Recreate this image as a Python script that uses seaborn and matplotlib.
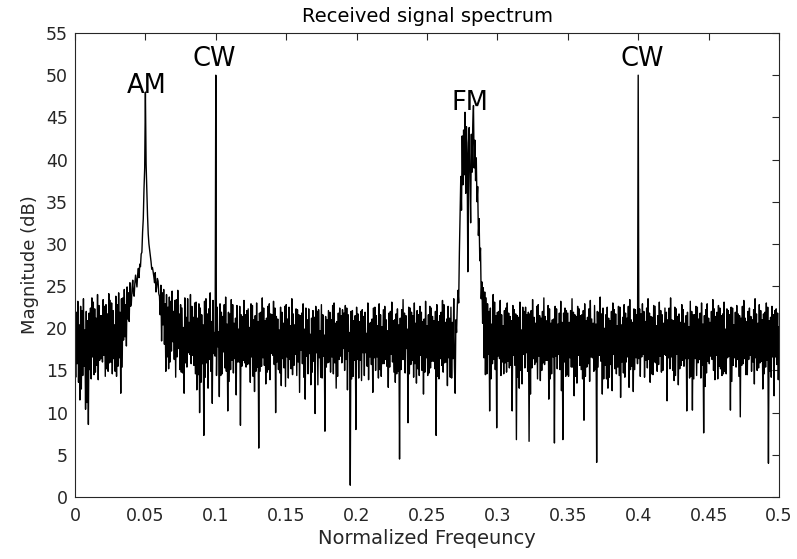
import numpy as np
import pandas as pd
import matplotlib
matplotlib.use("Agg")
import matplotlib.pyplot as plt
import seaborn as sns

# ---- data ----
# spectrum at bins 0.000, 0.001, ..., 0.500
band_a = [  # 0.000 - 0.099
    20.5, 21.9, 23.2, 20.4, 22.6, 22.1, 23.5, 19.8, 22.0, 20.9,
    21.8, 22.4, 23.6, 23.1, 22.3, 21.2, 24.0, 22.7, 21.5, 21.5,
    23.4, 22.6, 22.8, 21.7, 24.1, 23.3, 23.0, 22.1, 20.4, 23.8,
    22.8, 24.2, 21.9, 23.5, 23.6, 24.6, 22.8, 24.9, 24.2, 25.4,
    22.9, 25.7, 23.8, 26.3, 24.9, 27.1, 27.6, 28.8, 31.4, 36.5,
    48.0, 36.2, 31.2, 29.3, 27.9, 27.2, 26.1, 26.6, 24.9, 25.6,
    23.8, 25.1, 24.2, 24.6, 22.9, 24.0, 22.5, 23.7, 23.2, 24.4,
    22.0, 23.3, 23.4, 24.5, 21.7, 22.8, 22.4, 20.1, 23.6, 21.3,
    23.5, 20.7, 24.0, 22.6, 21.3, 23.0, 23.1, 21.2, 22.9, 22.4,
    21.6, 20.4, 23.2, 23.5, 21.7, 22.3, 24.2, 20.8, 23.3, 19.5,
]
band_b = [  # 0.100 - 0.199
    50.0, 22.5, 19.6, 22.9, 21.9, 21.4, 22.8, 23.7, 20.5, 21.9,
    21.7, 23.4, 22.8, 20.6, 21.2, 22.7, 19.9, 22.6, 21.6, 21.4,
    23.3, 21.6, 22.1, 22.3, 20.1, 22.9, 22.7, 21.0, 21.5, 23.0,
    20.8, 21.8, 21.9, 23.6, 22.4, 20.9, 21.2, 22.6, 22.9, 21.7,
    21.6, 23.2, 22.4, 21.4, 21.1, 19.8, 22.5, 21.9, 20.6, 22.6,
    22.8, 21.1, 22.5, 20.3, 23.5, 21.7, 20.4, 22.3, 22.2, 21.6,
    21.5, 21.8, 22.9, 19.9, 22.4, 21.0, 22.3, 19.3, 21.2, 22.1,
    21.3, 22.6, 22.0, 22.2, 19.7, 22.8, 21.6, 19.2, 21.4, 21.0,
    22.1, 21.9, 21.0, 22.7, 23.0, 20.6, 20.8, 21.8, 22.4, 21.5,
    22.2, 21.8, 22.7, 22.4, 21.6, 19.5, 22.0, 22.1, 20.9, 21.5,
]
band_c = [  # 0.200 - 0.299
    22.5, 21.7, 20.8, 22.0, 22.2, 21.4, 21.9, 19.4, 23.0, 20.6,
    20.7, 21.1, 22.4, 22.5, 21.5, 20.3, 22.9, 21.6, 20.2, 22.2,
    22.6, 21.0, 19.7, 21.8, 22.0, 23.1, 20.9, 21.0, 21.7, 22.3,
    20.4, 21.2, 22.2, 23.4, 21.8, 21.5, 19.9, 22.5, 22.4, 21.9,
    21.5, 23.0, 20.6, 22.1, 21.6, 22.6, 21.9, 20.8, 21.1, 23.2,
    20.3, 21.6, 22.6, 22.4, 21.4, 20.9, 22.0, 22.8, 20.8, 21.5,
    21.9, 23.3, 22.8, 20.7, 21.1, 22.6, 21.2, 22.5, 20.7, 23.5,
    12.3, 19.5, 24.5, 29.0, 38.0, 42.8, 43.5, 45.6, 43.9, 26.7,
    43.8, 32.5, 38.5, 46.4, 42.3, 40.2, 36.8, 33.0, 29.5, 25.5,
    24.8, 24.3, 23.6, 22.9, 22.0, 22.4, 20.5, 24.0, 23.1, 21.5,
]
band_d = [  # 0.300 - 0.399
    21.9, 22.0, 23.3, 21.6, 20.3, 22.1, 22.4, 23.0, 21.8, 21.4,
    20.9, 22.7, 22.2, 21.7, 21.5, 21.3, 23.1, 19.8, 22.5, 22.0,
    22.5, 21.6, 21.9, 21.7, 22.1, 23.4, 21.3, 20.6, 22.6, 22.8,
    21.5, 21.2, 22.0, 23.6, 21.4, 20.9, 22.7, 22.3, 20.6, 21.0,
    21.1, 22.6, 22.3, 20.5, 21.8, 23.2, 20.7, 21.8, 22.4, 22.1,
    21.8, 20.7, 22.1, 23.5, 21.9, 21.6, 21.4, 22.6, 22.3, 21.5,
    21.6, 22.1, 22.9, 20.9, 21.3, 22.3, 23.3, 21.1, 20.6, 22.7,
    20.5, 22.0, 21.9, 23.7, 21.7, 22.4, 20.0, 21.6, 22.5, 21.2,
    20.9, 22.0, 23.0, 22.2, 21.7, 20.3, 22.6, 22.5, 20.4, 21.3,
    22.8, 21.8, 21.2, 22.6, 23.4, 21.0, 20.7, 22.3, 22.2, 21.6,
]
band_e = [  # 0.400 - 0.500
    50.0, 22.3, 21.7, 22.9, 22.0, 20.8, 22.4, 23.5, 21.8, 21.4,
    21.3, 22.7, 22.6, 20.3, 21.5, 23.1, 22.1, 21.6, 20.6, 22.4,
    21.9, 21.0, 22.4, 23.6, 21.0, 20.9, 22.5, 22.3, 21.4, 21.7,
    20.7, 22.8, 22.2, 20.6, 21.5, 21.9, 20.2, 23.2, 22.0, 21.6,
    21.6, 22.6, 22.5, 21.1, 21.8, 23.0, 20.5, 21.5, 22.2, 22.9,
    21.2, 20.7, 22.0, 23.4, 22.3, 21.4, 21.9, 22.7, 22.4, 21.5,
    21.7, 23.1, 19.9, 22.3, 22.1, 21.6, 22.5, 22.4, 20.4, 21.9,
    22.7, 21.7, 21.5, 21.2, 22.6, 23.3, 21.2, 20.8, 22.0, 22.4,
    21.4, 21.0, 22.2, 23.5, 21.7, 20.6, 22.8, 22.1, 21.0, 21.7,
    21.9, 23.0, 22.5, 20.9, 21.3, 22.6, 21.6, 22.1, 22.3, 21.8,
    20.2,
]
# spectrum at half bins 0.0005, 0.0015, ..., 0.4995
mid_a = [
    14.2, 15.8, 13.6, 11.5, 12.8, 14.4, 15.5, 10.4, 11.2, 8.6,
    15.1, 14.0, 16.6, 14.5, 14.8, 15.6, 13.9, 16.2, 16.4, 16.0,
    16.8, 14.3, 15.2, 14.9, 15.9, 16.0, 14.6, 16.4, 14.9, 14.3,
    15.5, 16.5, 12.3, 15.4, 18.6, 19.0, 17.9, 21.1, 20.8, 22.6,
    24.7, 24.1, 25.3, 25.6, 26.4, 26.0, 27.3, 29.0, 33.0, 39.0,
    39.5, 33.4, 30.0, 28.5, 27.0, 26.7, 25.4, 24.3, 25.9, 24.1,
    21.6, 18.5, 20.4, 18.1, 14.9, 16.6, 15.2, 16.0, 17.3, 18.4,
    16.3, 14.2, 16.6, 17.6, 15.1, 14.8, 14.7, 12.3, 15.9, 15.4,
    17.1, 16.9, 15.8, 16.8, 15.6, 14.6, 12.7, 14.5, 10.0, 13.6,
    15.8, 7.3, 14.2, 15.9, 12.9, 16.3, 14.9, 11.1, 17.0, 16.7,
]
mid_b = [
    14.4, 17.8, 11.9, 14.4, 14.6, 17.2, 15.3, 14.9, 10.2, 13.7,
    15.1, 16.2, 14.7, 16.4, 12.1, 16.0, 16.0, 8.5, 15.5, 16.2,
    15.9, 15.4, 15.7, 15.8, 13.6, 16.6, 14.3, 12.5, 14.9, 15.4,
    5.8, 14.9, 15.5, 16.5, 15.6, 13.4, 14.8, 15.1, 13.9, 17.0,
    16.8, 15.7, 10.0, 16.0, 15.1, 14.7, 13.2, 16.4, 15.3, 13.1,
    16.6, 14.1, 16.3, 15.2, 14.5, 15.6, 16.9, 14.4, 16.0, 12.4,
    17.4, 15.8, 14.2, 11.6, 16.7, 14.6, 17.0, 13.3, 14.8, 16.1,
    9.9, 17.1, 13.3, 16.5, 14.2, 14.1, 16.7, 7.8, 15.4, 15.9,
    16.0, 14.8, 16.6, 14.6, 15.9, 12.9, 14.3, 16.3, 16.7, 15.9,
    17.6, 15.0, 16.3, 12.7, 17.3, 1.4, 14.0, 14.3, 16.2, 8.0,
]
mid_c = [
    16.3, 14.1, 16.2, 13.8, 17.1, 14.4, 17.1, 15.5, 13.9, 16.6,
    15.7, 12.4, 16.5, 15.0, 16.6, 14.1, 15.1, 14.3, 15.8, 15.8,
    16.3, 15.5, 13.0, 15.4, 16.9, 16.0, 14.8, 13.6, 14.6, 14.9,
    4.5, 15.1, 16.3, 16.3, 14.7, 17.6, 8.8, 14.6, 15.7, 16.2,
    14.2, 15.8, 13.5, 15.2, 14.4, 16.8, 15.0, 12.2, 14.8, 16.5,
    14.4, 14.7, 15.3, 16.1, 16.1, 15.2, 7.3, 14.3, 14.0, 16.4,
    15.6, 14.8, 15.9, 16.0, 13.2, 16.5, 14.2, 14.1, 16.4, 15.4,
    21.0, 22.5, 23.0, 33.5, 34.0, 37.0, 38.2, 36.0, 40.5, 42.0,
    37.0, 43.0, 44.0, 39.0, 37.5, 35.0, 31.0, 28.0, 23.5, 20.6,
    16.5, 14.5, 14.6, 16.9, 10.2, 14.0, 15.8, 16.3, 15.1, 8.2,
]
mid_d = [
    16.7, 16.4, 14.4, 16.0, 14.6, 15.9, 14.8, 16.1, 15.3, 15.6,
    10.2, 16.8, 15.6, 6.8, 14.2, 12.9, 15.0, 13.4, 16.9, 15.3,
    17.1, 14.9, 6.6, 12.2, 15.3, 16.4, 15.7, 16.0, 14.0, 16.7,
    13.8, 15.0, 15.9, 15.7, 16.2, 16.2, 11.6, 14.0, 14.6, 16.6,
    6.4, 16.7, 15.2, 16.9, 15.1, 12.6, 6.8, 16.0, 14.3, 14.5,
    14.3, 16.5, 15.4, 15.4, 12.0, 14.3, 13.5, 16.8, 15.6, 15.1,
    14.0, 9.1, 14.3, 15.4, 15.8, 13.7, 16.6, 16.5, 14.9, 15.1,
    4.1, 15.4, 16.8, 16.1, 12.2, 14.0, 15.6, 14.0, 12.9, 14.2,
    15.7, 12.6, 16.9, 15.2, 14.6, 15.4, 14.4, 11.8, 16.0, 14.7,
    14.2, 16.0, 16.6, 13.0, 15.1, 15.5, 12.5, 15.1, 16.5, 15.8,
]
mid_e = [
    16.4, 14.3, 16.6, 16.9, 14.2, 16.2, 15.3, 16.3, 13.6, 14.6,
    14.5, 16.0, 15.9, 14.9, 15.7, 16.7, 14.8, 15.0, 16.9, 16.8,
    11.4, 16.5, 15.2, 16.6, 15.0, 13.8, 14.4, 16.9, 13.3, 15.2,
    15.6, 16.2, 15.5, 16.4, 10.2, 16.4, 14.1, 14.3, 10.3, 14.0,
    16.4, 14.4, 15.9, 16.3, 14.1, 15.6, 7.6, 13.1, 14.7, 16.1,
    15.8, 16.7, 16.3, 15.0, 13.9, 16.8, 14.0, 15.5, 15.2, 14.4,
    14.6, 14.9, 14.6, 16.5, 16.7, 10.3, 13.7, 15.6, 16.5, 15.4,
    16.3, 14.3, 9.5, 15.6, 15.8, 16.4, 14.5, 14.5, 16.3, 16.8,
    14.9, 16.0, 13.4, 16.5, 15.0, 15.3, 15.9, 16.1, 12.8, 14.6,
    15.4, 16.2, 4.0, 14.9, 14.2, 16.6, 12.0, 16.6, 15.7, 13.9,
]

bin_mag = band_a + band_b + band_c + band_d + band_e
mid_mag = mid_a + mid_b + mid_c + mid_d + mid_e
bin_freq = np.round(np.arange(len(bin_mag)) * 0.001, 4)
mid_freq = np.round(np.arange(len(mid_mag)) * 0.001 + 0.0005, 4)

labels_text = ["AM", "CW", "FM", "CW"]
labels_x = [0.0511, 0.0986, 0.2805, 0.4031]
labels_y = [47.9, 51.1, 45.9, 51.1]

x_ticks = [0, 0.05, 0.1, 0.15, 0.2, 0.25, 0.3, 0.35, 0.4, 0.45, 0.5]
x_ticklabels = ["0", "0.05", "0.1", "0.15", "0.2", "0.25", "0.3", "0.35", "0.4", "0.45", "0.5"]
y_ticks = [0, 5, 10, 15, 20, 25, 30, 35, 40, 45, 50, 55]

df = pd.DataFrame({"freq": np.concatenate([bin_freq, mid_freq]),
                   "mag": bin_mag + mid_mag}).sort_values("freq")

# ---- plot ----
sns.set_style("white")
plt.rcParams["font.family"] = ["DejaVu Sans"]

fig = plt.figure(figsize=(7.97, 5.59), dpi=100)
ax = fig.add_axes([75 / 797, 1 - 497 / 559, (779 - 75) / 797, (497 - 33) / 559])

sns.lineplot(data=df, x="freq", y="mag", color="black", linewidth=1.0,
             estimator=None, sort=True, ax=ax)

for t, xx, yy in zip(labels_text, labels_x, labels_y):
    ax.text(xx, yy, t, ha="center", va="baseline", fontsize=18.5, color="black")

ax.set_xlim(0, 0.5)
ax.set_ylim(0, 55)
ax.set_xticks(x_ticks)
ax.set_xticklabels(x_ticklabels)
ax.set_yticks(y_ticks)

grey = "#262626"
for s in ax.spines.values():
    s.set_visible(True)
    s.set_color(grey)
    s.set_linewidth(0.8)
ax.tick_params(direction="in", length=5, width=0.8, colors=grey,
               top=True, right=True, labelsize=12.5)
ax.tick_params(axis="x", pad=7)
ax.tick_params(axis="y", pad=5)

ax.set_xlabel("Normalized Freqeuncy", fontsize=14, color=grey, labelpad=3)
ax.set_ylabel("Magnitude (dB)", fontsize=13, color=grey, labelpad=5)
ax.set_title("Received signal spectrum", fontsize=14, color="black", pad=8)

fig.savefig("out.png", dpi=100)
